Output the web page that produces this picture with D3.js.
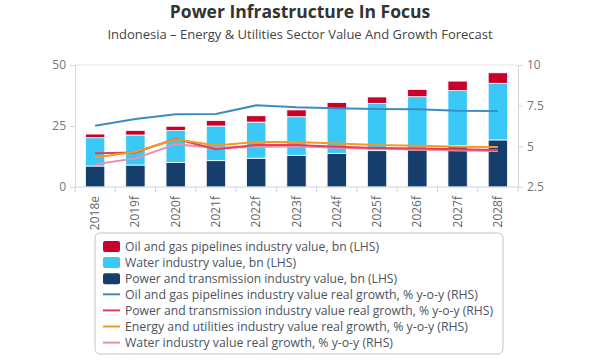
<!DOCTYPE html>
<html><head><meta charset="utf-8">
<script src="https://cdn.jsdelivr.net/npm/d3@7"></script>
<style>body{margin:0;background:#fff;font-family:"Open Sans",sans-serif;}</style>
</head><body><svg id="c" width="600" height="360"></svg>
<script>
const categories = ["2018e","2019f","2020f","2021f","2022f","2023f","2024f","2025f","2026f","2027f","2028f"];
const powerValue = [8.6, 9.0, 10.0, 10.8, 11.8, 13.0, 13.8, 14.9, 15.2, 17.0, 19.3];
const waterValue = [11.6, 12.3, 13.2, 14.2, 14.8, 15.8, 18.4, 19.4, 21.8, 22.5, 23.2];
const oilGasValue = [1.5, 1.9, 1.7, 2.2, 2.6, 2.8, 2.4, 2.6, 3.0, 3.9, 4.3];
const oilGasGrowth = [6.27, 6.68, 6.97, 6.99, 7.52, 7.40, 7.34, 7.30, 7.28, 7.19, 7.17];
const powerGrowth = [4.57, 4.62, 5.47, 4.82, 5.08, 5.08, 4.98, 4.90, 4.86, 4.82, 4.77];
const energyGrowth = [4.32, 4.67, 5.43, 5.05, 5.27, 5.27, 5.18, 5.08, 5.04, 4.98, 4.96];
const waterGrowth = [3.90, 4.26, 5.12, 4.92, 4.96, 5.00, 4.92, 4.85, 4.80, 4.75, 4.71];
const leftTicks = [0, 25, 50];
const rightTicks = [2.5, 5, 7.5, 10];

const svg = d3.select("#c");
const L = 75, R = 518, T = 65, B = 187;
const x = d3.scaleBand().domain(categories).range([L, R]).paddingInner(0.52).paddingOuter(0.26);
const xb = d3.scaleBand().domain(categories).range([L, R]);
const yL = d3.scaleLinear().domain([0, 50]).range([B, T]);
const yR = d3.scaleLinear().domain([2.5, 10]).range([B, T]);

svg.append("text").attr("x", 300).attr("y", 18).attr("text-anchor", "middle")
  .attr("font-size", 17.5).attr("font-weight", "bold").attr("fill", "#333").text("Power Infrastructure In Focus");
svg.append("text").attr("x", 300).attr("y", 39).attr("text-anchor", "middle")
  .attr("font-size", 13).attr("fill", "#444").text("Indonesia – Energy & Utilities Sector Value And Growth Forecast");

// top grid line
svg.append("line").attr("x1", L).attr("x2", R).attr("y1", yL(50)).attr("y2", yL(50)).attr("stroke", "#e3e3e3");

const colors = {oil:"#c9002c", water:"#3ac8f6", power:"#163e6c"};
const stackData = categories.map((c,i)=>({cat:c, power:powerValue[i], water:waterValue[i], oil:oilGasValue[i]}));
const stack = d3.stack().keys(["power","water","oil"])(stackData);
svg.append("g").selectAll("g").data(stack).join("g").attr("fill", d=>colors[d.key])
  .selectAll("rect").data(d=>d).join("rect")
  .attr("x", d=>x(d.data.cat)).attr("width", x.bandwidth())
  .attr("y", d=>yL(d[1])).attr("height", d=>yL(d[0])-yL(d[1]))
  .attr("stroke", "#fff").attr("stroke-width", 0.8);

const line = d3.line().x((d,i)=>xb(categories[i])+xb.bandwidth()/2).y(d=>yR(d));
const lines = [
  {v:waterGrowth, c:"#ef8db0"},
  {v:powerGrowth, c:"#e2405c"},
  {v:energyGrowth, c:"#f59a1f"},
  {v:oilGasGrowth, c:"#3a8dc4"}
];
lines.forEach(l=>svg.append("path").attr("d", line(l.v)).attr("fill","none").attr("stroke", l.c).attr("stroke-width", 2));

// axes
const gx = svg.append("g").attr("transform", `translate(0,${B})`);
gx.append("line").attr("x1", L).attr("x2", R).attr("stroke", "#c8d4e0");
gx.selectAll("line.t").data(d3.range(categories.length+1)).join("line").attr("class","t")
  .attr("x1", i=>L+i*xb.bandwidth()).attr("x2", i=>L+i*xb.bandwidth()).attr("y1",0).attr("y2",5).attr("stroke","#c8d4e0");
gx.selectAll("text").data(categories).join("text")
  .attr("transform", d=>`translate(${xb(d)+xb.bandwidth()/2+4},9) rotate(-90)`)
  .attr("text-anchor","end").attr("font-size", 12).attr("fill", "#666").text(d=>d);

const gl = svg.append("g").attr("transform", `translate(${L},0)`)
  .call(d3.axisLeft(yL).tickValues(leftTicks).tickSize(5).tickPadding(4));
const gr = svg.append("g").attr("transform", `translate(${R},0)`)
  .call(d3.axisRight(yR).tickValues(rightTicks).tickSize(5).tickPadding(4).tickFormat(d=>d));
[gl, gr].forEach(g=>{
  g.select(".domain").attr("stroke", "#d6d6d6");
  g.selectAll(".tick line").attr("stroke", "#d6d6d6");
  g.selectAll(".tick text").attr("font-size", 12).attr("fill", "#777").attr("font-family", "Open Sans");
});

// legend
svg.append("rect").attr("x", 95).attr("y", 233).attr("width", 408).attr("height", 121).attr("rx", 5)
  .attr("fill", "#fff").attr("stroke", "#c4c4c4");
const legend = [
  {t:"Oil and gas pipelines industry value, bn (LHS)", c:colors.oil, r:true, w:254},
  {t:"Water industry value, bn (LHS)", c:colors.water, r:true, w:171},
  {t:"Power and transmission industry value, bn (LHS)", c:colors.power, r:true, w:272},
  {t:"Oil and gas pipelines industry value real growth, % y-o-y (RHS)", c:"#3a8dc4", w:353},
  {t:"Power and transmission industry value real growth, % y-o-y (RHS)", c:"#e2405c", w:368},
  {t:"Energy and utilities industry value real growth, % y-o-y (RHS)", c:"#f59a1f", w:343},
  {t:"Water industry value real growth, % y-o-y (RHS)", c:"#ef8db0", w:268}
];
const lg = svg.append("g").selectAll("g").data(legend).join("g")
  .attr("transform", (d,i)=>`translate(103,${246+i*16.1})`);
lg.filter(d=>d.r).append("rect").attr("x",0).attr("y",-5).attr("width",17).attr("height",11).attr("rx",2).attr("fill",d=>d.c);
lg.filter(d=>!d.r).append("line").attr("x1",0).attr("x2",17).attr("stroke",d=>d.c).attr("stroke-width",2);
lg.append("text").attr("x",22).attr("y",4.5).attr("font-size",12.5).attr("fill","#4a5460")
  .attr("textLength", d=>d.w).attr("lengthAdjust","spacingAndGlyphs").text(d=>d.t);
</script></body></html>
